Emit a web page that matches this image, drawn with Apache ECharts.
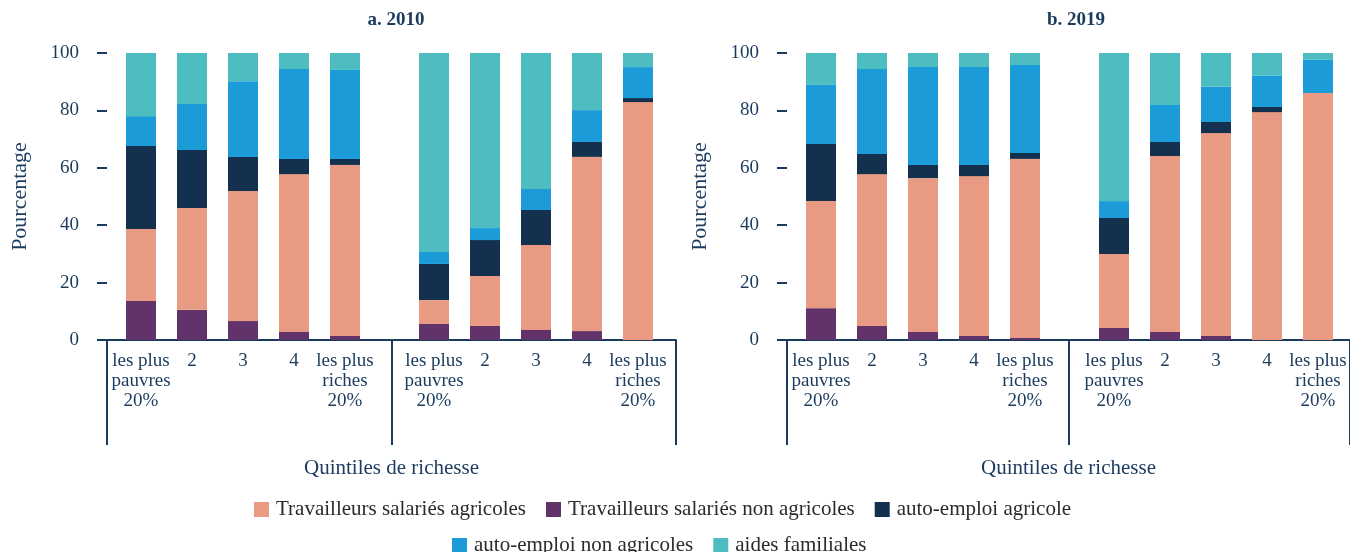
<!DOCTYPE html>
<html>
<head>
<meta charset="utf-8">
<script src="https://cdn.jsdelivr.net/npm/echarts@6/dist/echarts.min.js"></script>
<style>
  html, body { margin: 0; padding: 0; background: #fff; }
  #chart { width: 1350px; height: 552px; }
</style>
</head>
<body>
<div id="chart"></div>
<script>
// quintile labels, same for each group of five bars
const quintiles = ['les plus\npauvres\n20%', '2', '3', '4', 'les plus\nriches\n20%'];

// 10 bars per panel: first group of five, then second group
const salNonAgri2010  = [13.6, 10.5, 6.6, 2.8, 1.4, 5.6, 4.9, 3.5, 3.1, 0];
const salAgri2010     = [25.1, 35.5, 45.3, 55.0, 59.6, 8.3, 17.4, 29.6, 60.7, 82.9];
const autoAgri2010    = [28.9, 20.2, 11.9, 5.3, 2.1, 12.6, 12.5, 12.2, 5.2, 1.4];
const autoNonAgri2010 = [10.4, 16.0, 26.4, 31.3, 31.0, 4.2, 4.2, 7.3, 11.1, 10.8];
const aides2010       = [22.0, 17.8, 9.8, 5.6, 5.9, 69.3, 61.0, 47.4, 19.9, 4.9];

const salNonAgri2019  = [11.1, 4.9, 2.8, 1.4, 0.7, 4.2, 2.8, 1.4, 0, 0];
const salAgri2019     = [37.3, 52.9, 53.6, 55.7, 62.4, 25.8, 61.3, 70.7, 79.4, 86.1];
const autoAgri2019    = [19.9, 7.0, 4.6, 3.9, 2.1, 12.5, 4.9, 3.9, 1.8, 0];
const autoNonAgri2019 = [20.6, 29.6, 34.1, 34.1, 30.6, 5.9, 12.9, 12.2, 11.0, 11.5];
const aides2019       = [11.1, 5.6, 4.9, 4.9, 4.2, 51.6, 18.1, 11.8, 7.8, 2.4];

const yTicks = [0, 20, 40, 60, 80, 100];

const names = {
  salAgri: 'Travailleurs salariés agricoles',
  salNonAgri: 'Travailleurs salariés non agricoles',
  autoAgri: 'auto-emploi agricole',
  autoNonAgri: 'auto-emploi non agricoles',
  aides: 'aides familiales'
};
const colors = {
  salAgri: '#E89A82',
  salNonAgri: '#62336A',
  autoAgri: '#13304F',
  autoNonAgri: '#1B9BD7',
  aides: '#4DBDC1'
};
// bottom to top
const stackOrder = ['salNonAgri', 'salAgri', 'autoAgri', 'autoNonAgri', 'aides'];

const FONT = 'Liberation Serif';
const NAVY = '#1A3A5E';

const panels = {
  2010: { salNonAgri: salNonAgri2010, salAgri: salAgri2010, autoAgri: autoAgri2010, autoNonAgri: autoNonAgri2010, aides: aides2010 },
  2019: { salNonAgri: salNonAgri2019, salAgri: salAgri2019, autoAgri: autoAgri2019, autoNonAgri: autoNonAgri2019, aides: aides2019 }
};

const chart = echarts.init(document.getElementById('chart'));

const grids = [];
const xAxes = [];
const yAxes = [];
const series = [];

function addPanel(year, outerLeft) {
  // outer frame: axis line, group separators, y axis
  let idx = grids.length;
  grids.push({ left: outerLeft, width: 569, top: 53, height: 287 });
  xAxes.push({
    type: 'category', gridIndex: idx, data: ['', ''],
    axisLine: { lineStyle: { color: NAVY, width: 2 } },
    axisTick: { show: true, interval: 0, length: 105, lineStyle: { color: NAVY, width: 2 } },
    axisLabel: { show: false },
    name: 'Quintiles de richesse', nameLocation: 'middle', nameGap: 118,
    nameTextStyle: { fontFamily: FONT, fontSize: 21, color: NAVY }
  });
  yAxes.push({
    type: 'value', gridIndex: idx, min: yTicks[0], max: yTicks[yTicks.length - 1], interval: 20,
    axisLine: { show: false },
    axisTick: { show: true, length: 10, lineStyle: { color: NAVY, width: 2 } },
    splitLine: { show: false },
    axisLabel: { margin: 28, fontFamily: FONT, fontSize: 19, color: NAVY },
    name: 'Pourcentage', nameLocation: 'middle', nameGap: 76, nameRotate: 90,
    nameTextStyle: { fontFamily: FONT, fontSize: 22, color: NAVY }
  });

  // two groups of five bars
  [0, 5].forEach((from, g) => {
    let gi = grids.length;
    grids.push({ left: outerLeft + 8.5 + g * 293, width: 255, top: 53, height: 287 });
    xAxes.push({
      type: 'category', gridIndex: gi, data: quintiles,
      axisLine: { show: false }, axisTick: { show: false },
      axisLabel: { interval: 0, margin: 11, fontFamily: FONT, fontSize: 19, lineHeight: 20, color: NAVY }
    });
    yAxes.push({ type: 'value', gridIndex: gi, min: 0, max: 100, show: false });
    stackOrder.forEach(k => {
      series.push({
        name: names[k], type: 'bar', stack: 'g' + gi,
        xAxisIndex: gi, yAxisIndex: gi, barWidth: 30,
        itemStyle: { color: colors[k] },
        data: panels[year][k].slice(from, from + 5)
      });
    });
  });
}

addPanel(2010, 107);
addPanel(2019, 787);

const titleStyle = { fontFamily: FONT, fontSize: 19, fontWeight: 'bold', color: NAVY };
const legendBase = {
  icon: 'rect', itemWidth: 15, itemHeight: 15, itemGap: 20,
  selectedMode: false,
  textStyle: { fontFamily: FONT, fontSize: 21, color: '#2b2b2b', padding: [0, 0, 0, 2] }
};

chart.setOption({
  animation: false,
  title: [
    { text: 'a. 2010', left: 391, top: 6, textAlign: 'center', textStyle: titleStyle },
    { text: 'b. 2019', left: 1071, top: 6, textAlign: 'center', textStyle: titleStyle }
  ],
  legend: [
    Object.assign({}, legendBase, { left: 249, top: 494, data: [names.salAgri, names.salNonAgri, names.autoAgri] }),
    Object.assign({}, legendBase, { left: 447, top: 530, data: [names.autoNonAgri, names.aides] })
  ],
  grid: grids,
  xAxis: xAxes,
  yAxis: yAxes,
  series: series
});
</script>
</body>
</html>
